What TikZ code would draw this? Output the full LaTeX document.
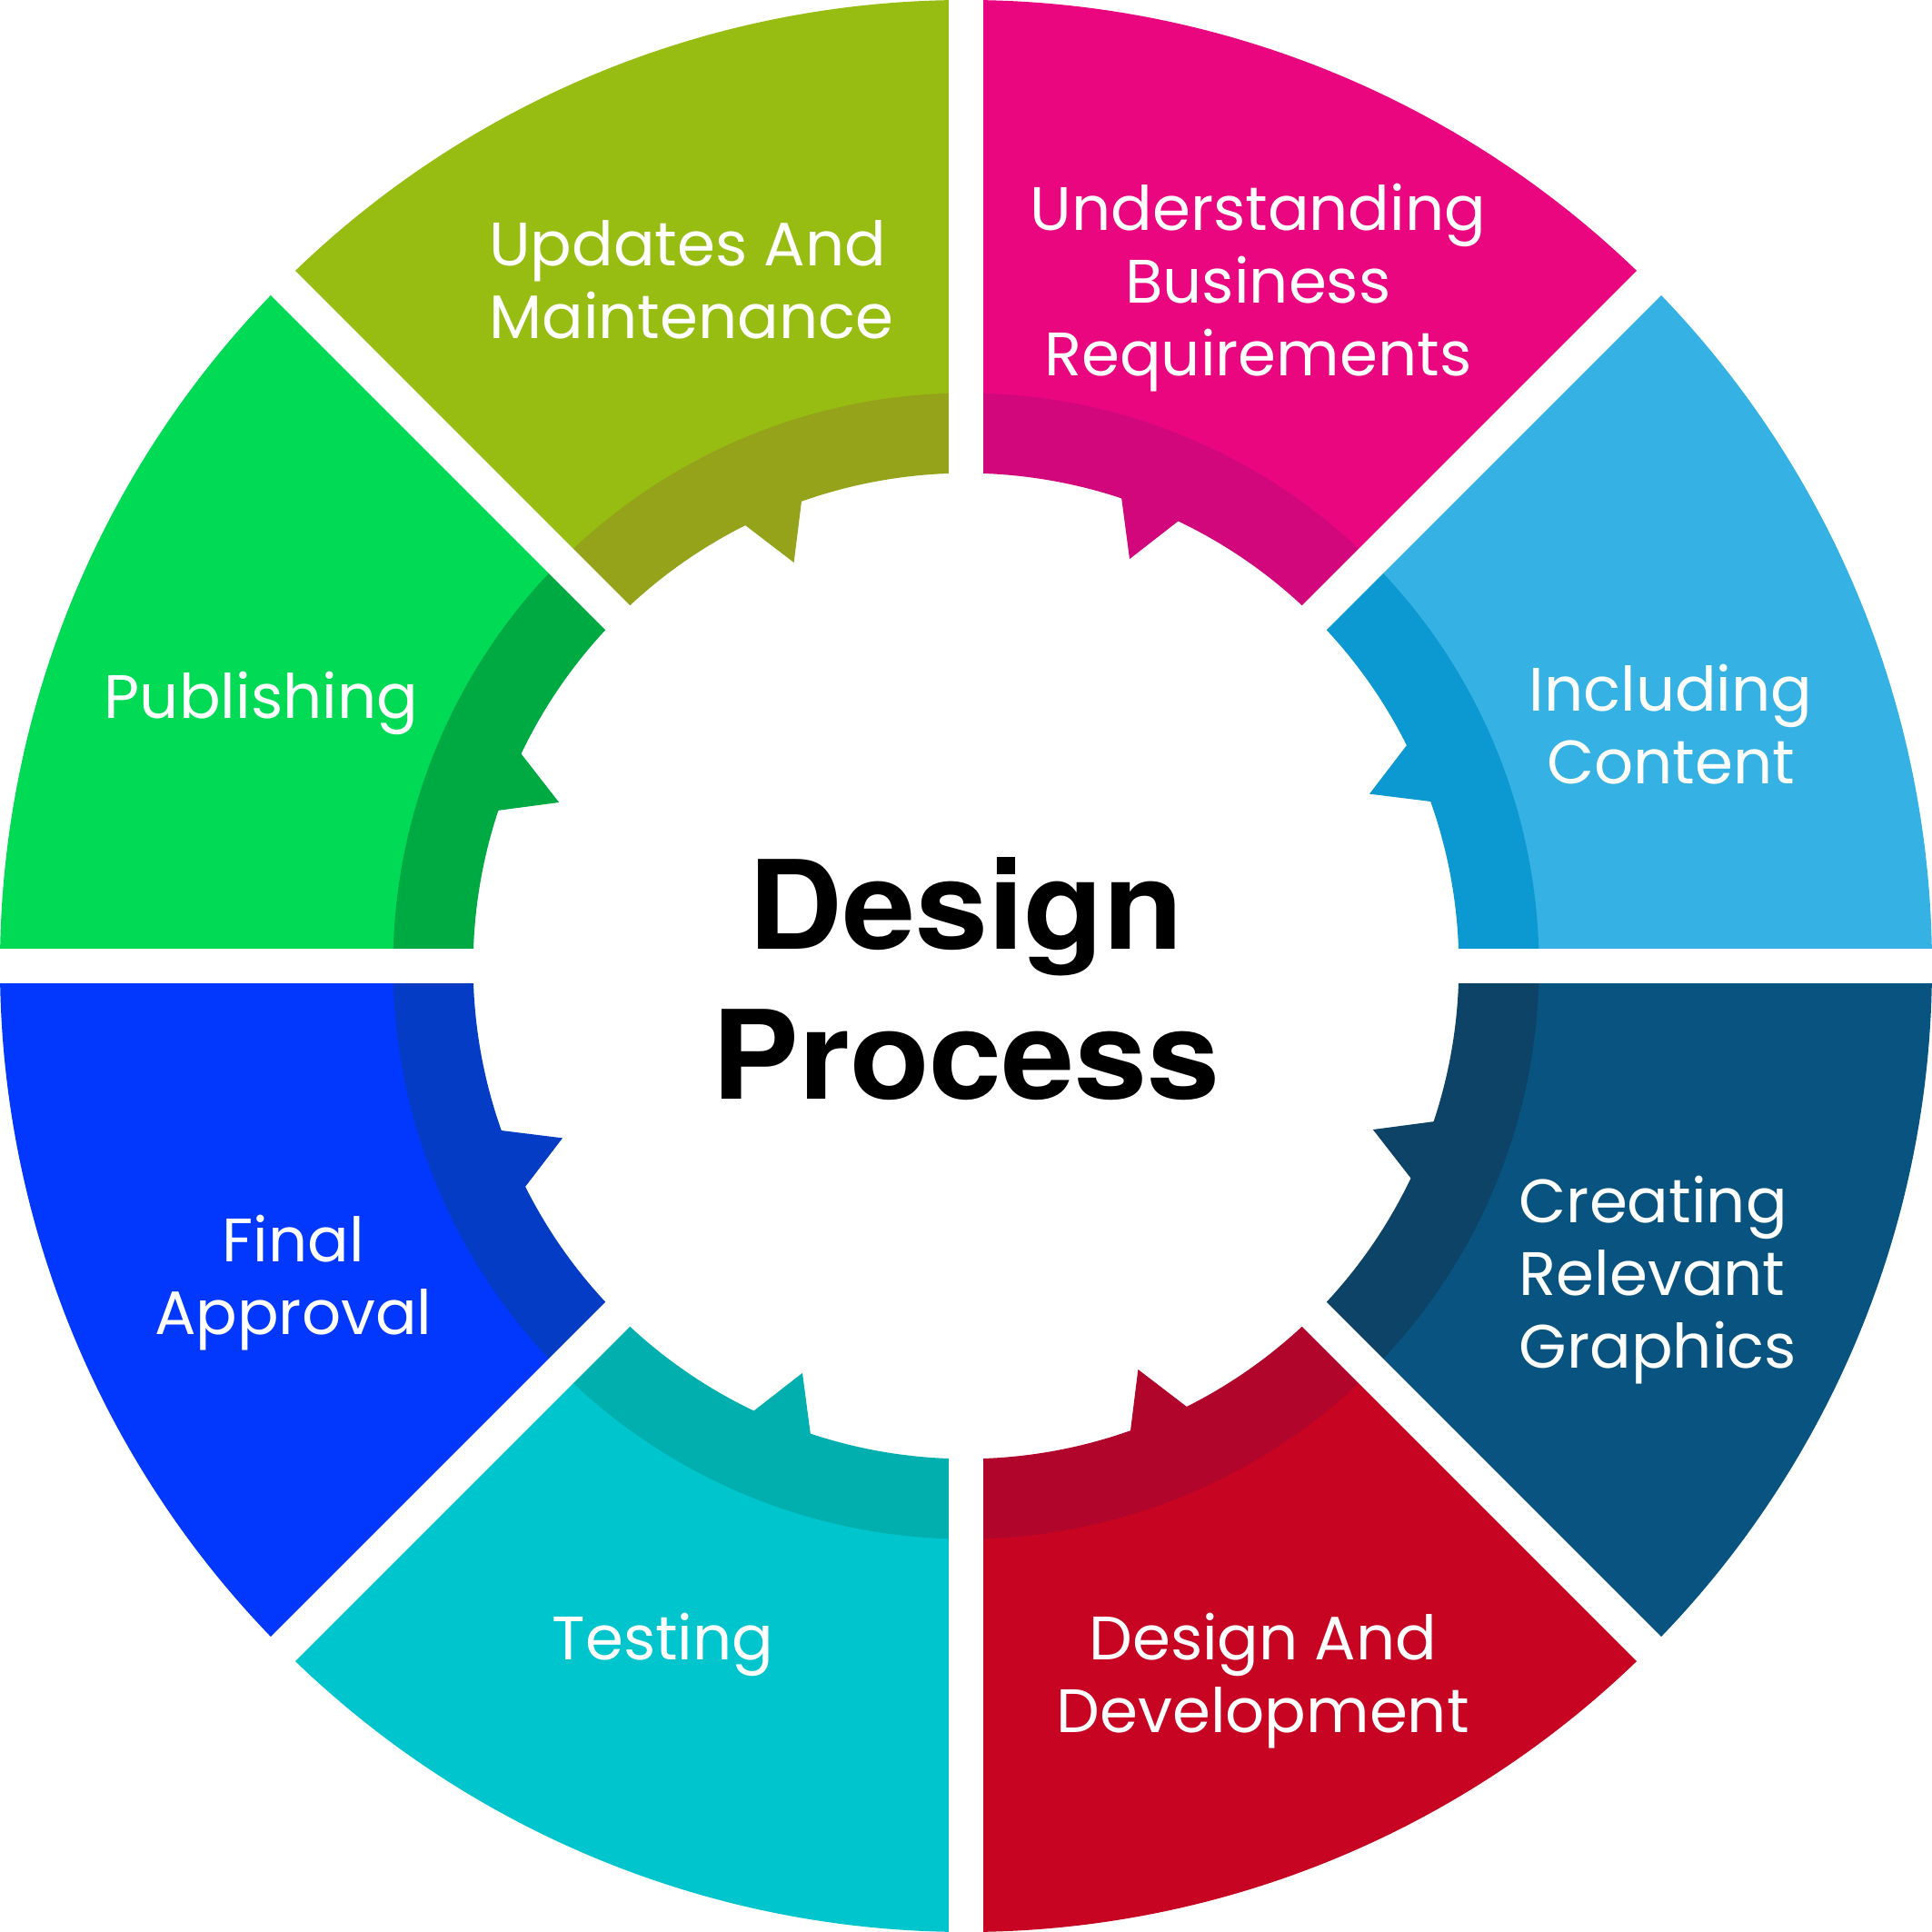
\documentclass[tikz,border=0pt]{standalone}
\usepackage{fontspec}
\newfontfamily\pop{Poppins}
\newfontfamily\heros[FakeStretch=1.06]{TeX Gyre Heros}
\definecolor{magL}{HTML}{E9067F}
\definecolor{magD}{HTML}{D3077C}
\definecolor{skyL}{HTML}{36B1E3}
\definecolor{skyD}{HTML}{0C98D0}
\definecolor{navL}{HTML}{08537F}
\definecolor{navD}{HTML}{0C4366}
\definecolor{redL}{HTML}{C70421}
\definecolor{redD}{HTML}{B2052C}
\definecolor{cyaL}{HTML}{00C5CD}
\definecolor{cyaD}{HTML}{01AFAF}
\definecolor{bluL}{HTML}{0237FE}
\definecolor{bluD}{HTML}{043CC5}
\definecolor{grnL}{HTML}{00DA55}
\definecolor{grnD}{HTML}{00AA43}
\definecolor{olvL}{HTML}{97BD12}
\definecolor{olvD}{HTML}{95A31A}
\newcommand\clines[1]{\vtop{\halign{\hfil##\hfil\cr#1\crcr}}}
\newcommand\llines[1]{\vtop{\halign{##\hfil\cr#1\crcr}}}
\tikzset{
  lbl/.style={inner sep=0pt, outer sep=0pt, text=white, font=\pop\fontsize{49.8}{59}\selectfont},
  ttl/.style={inner sep=0pt, outer sep=0pt, text=black, font=\heros\bfseries\fontsize{100}{121.7}\selectfont},
  gap/.style={white, line width=28pt}
}
\begin{document}
\begin{tikzpicture}[x=1pt,y=1pt]
\useasboundingbox[fill=white] (-784,-784) rectangle (784,784);
\foreach \a/\lc/\dc in {45/magL/magD, 0/skyL/skyD, -45/navL/navD, -90/redL/redD, -135/cyaL/cyaD, 180/bluL/bluD, 135/grnL/grnD, 90/olvL/olvD}{
  \pgfmathsetmacro\b{\a+45}
  \pgfmathsetmacro\ta{\a+26.6}
  \pgfmathsetmacro\tb{\a+23.1}
  \pgfmathsetmacro\tc{\a+19.5}
  \fill[\lc] (\a:430pt) -- (\a:784pt) arc[start angle=\a, end angle=\b, radius=784pt] -- (\b:430pt) arc[start angle=\b, end angle=\a, radius=430pt] -- cycle;
  \fill[\dc] (\a:400pt) -- (\a:465pt) arc[start angle=\a, end angle=\b, radius=465pt] -- (\b:400pt) arc[start angle=\b, end angle=\ta, radius=400pt] -- (\tb:356pt) -- (\tc:400pt) arc[start angle=\tc, end angle=\a, radius=400pt] -- cycle;
}
\foreach \g in {0,45,90,135}{
  \draw[gap] (\g:792pt) -- (\g+180:792pt);
}
\node[ttl, anchor=base] (title) at (0,14) {\clines{Design\cr Process}};
\node[lbl, anchor=base] (ubr) at (237,597) {\clines{Understanding\cr Business\cr Requirements}};
\node[lbl, anchor=base west] (uam) at (-387,568) {\llines{Updates And\cr Maintenance}};
\node[lbl, anchor=base] (inc) at (572,207) {\clines{Including\cr Content}};
\node[lbl, anchor=base] (pub) at (-572,201) {Publishing};
\node[lbl, anchor=base west] (crg) at (449,-208) {\llines{Creating\cr Relevant\cr Graphics}};
\node[lbl, anchor=base] (dad) at (241,-563) {\clines{Design And\cr Development}};
\node[lbl, anchor=base] (tst) at (-246,-563) {Testing};
\node[lbl, anchor=base] (fap) at (-546,-240) {\clines{Final\cr Approval}};
\end{tikzpicture}
\end{document}
